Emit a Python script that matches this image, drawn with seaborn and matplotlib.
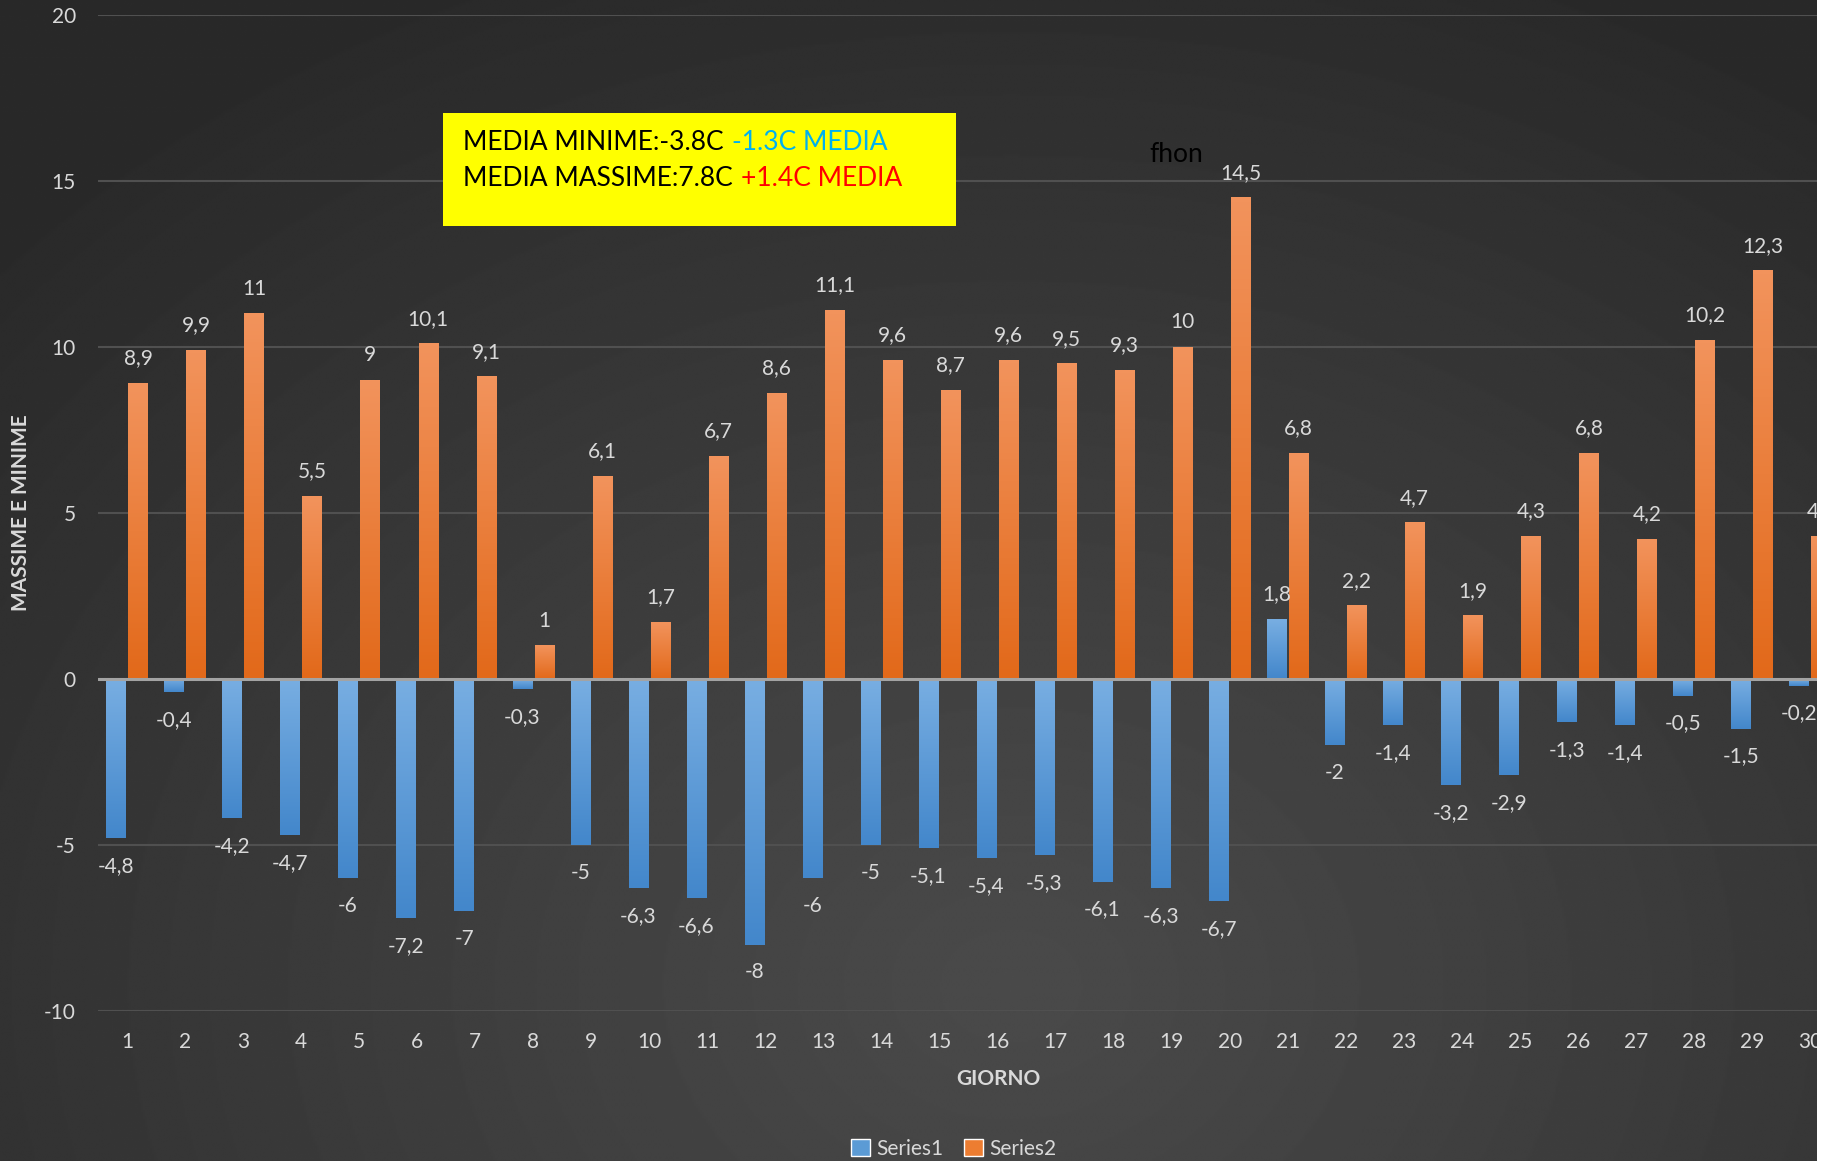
"""Temperature minime/massime per giorno, stile grafico Excel scuro."""

import numpy as np
import pandas as pd
import matplotlib
matplotlib.use("Agg")
from matplotlib import pyplot as plt
from matplotlib.patches import Rectangle
from matplotlib.colors import LinearSegmentedColormap
import seaborn as sns

giorni = list(range(1, 31))
minime = [-4.8, -0.4, -4.2, -4.7, -6, -7.2, -7, -0.3, -5, -6.3,
          -6.6, -8, -6, -5, -5.1, -5.4, -5.3, -6.1, -6.3, -6.7,
          1.8, -2, -1.4, -3.2, -2.9, -1.3, -1.4, -0.5, -1.5, -0.2]
massime = [8.9, 9.9, 11, 5.5, 9, 10.1, 9.1, 1, 6.1, 1.7,
           6.7, 8.6, 11.1, 9.6, 8.7, 9.6, 9.5, 9.3, 10, 14.5,
           6.8, 2.2, 4.7, 1.9, 4.3, 6.8, 4.2, 10.2, 12.3, 4.3]
serie = ["Series1", "Series2"]
colori = {"Series1": "#5B9BD5", "Series2": "#ED7D31"}
gradienti = {
    "Series1": ["#78AEE2", "#4387CB"],
    "Series2": ["#F2935C", "#E2691A"],
}
y_ticks = [-10, -5, 0, 5, 10, 15, 20]

W, H, DPI = 1839, 1161, 100
TXT = "#d9d9d9"

sns.set_theme(style="dark")
plt.rcParams["font.family"] = ["Lato", "DejaVu Sans"]
plt.rcParams["axes.unicode_minus"] = False

df = pd.DataFrame({
    "giorno": giorni * 2,
    "valore": minime + massime,
    "serie": [serie[0]] * len(giorni) + [serie[1]] * len(giorni),
})

fig = plt.figure(figsize=(W / DPI, H / DPI), dpi=DPI)

# sfondo con gradiente radiale
bg = fig.add_axes([0, 0, 1, 1], zorder=-10)
yy, xx = np.mgrid[0:1:600j, 0:1:960j]
dist = np.sqrt(((xx - 0.55) / 0.75) ** 2 + ((yy - 0.85) / 0.95) ** 2)
val = 0x4a - (0x4a - 0x29) * np.clip(dist, 0, 1) ** 1.1
bg.imshow(val, cmap="gray", vmin=0, vmax=255, aspect="auto",
          extent=[0, 1, 0, 1], interpolation="bilinear")
bg.set_axis_off()

ax = fig.add_axes([98 / W, 1 - 1011 / H, 1 - 98 / W, (1011 - 15) / H])
ax.set_facecolor("none")

sns.barplot(data=df, x="giorno", y="valore", hue="serie", palette=colori,
            width=0.76, gap=0.12, saturation=1, ax=ax)

grad = np.linspace(0, 1, 100).reshape(-1, 1)
for container, nome, valori in zip(ax.containers, serie, [minime, massime]):
    cmap = LinearSegmentedColormap.from_list(nome, gradienti[nome])
    for bar, v in zip(container, valori):
        x, w = bar.get_x(), bar.get_width()
        y0, h = bar.get_y(), bar.get_height()
        bot, top = min(y0, y0 + h), max(y0, y0 + h)
        ax.imshow(grad, cmap=cmap, aspect="auto", extent=[x, x + w, bot, top],
                  origin="upper", zorder=2)
        bar.set_alpha(0)
        ax.annotate(f"{v:g}".replace(".", ","), (x + w / 2, v),
                    xytext=(0, 18 if v >= 0 else -20), textcoords="offset points",
                    ha="center", va="center", color=TXT, fontsize=15)

ax.set_xlim(-0.5, 29.5)
ax.set_ylim(-10, 20)
ax.set_yticks(y_ticks)
ax.yaxis.grid(True, color="#505050", lw=1.5)
ax.xaxis.grid(False)
ax.axhline(0, color="#a3a3a3", lw=2.2, zorder=3)
ax.tick_params(axis="both", length=0, colors=TXT, labelsize=15)
ax.tick_params(axis="y", pad=16)
ax.tick_params(axis="x", pad=15)
ax.set_xlabel("")
ax.set_ylabel("")
for s in ax.spines.values():
    s.set_visible(False)

handles, labels = ax.get_legend_handles_labels()
ax.get_legend().remove()
fig.legend(handles, labels, loc="center", bbox_to_anchor=(954 / W, 1 - 1149 / H),
           ncol=2, frameon=False, handlelength=0.9, handleheight=0.9,
           columnspacing=1.0, handletextpad=0.3, fontsize=15, labelcolor=TXT)

fig.text(998 / W, 1 - 1079 / H, "GIORNO", ha="center", va="center",
         color=TXT, fontsize=15, fontweight="bold")
fig.text(21 / W, 1 - 513 / H, "MASSIME E MINIME", ha="center", va="center",
         rotation=90, color=TXT, fontsize=15, fontweight="bold")

# riquadro giallo con le medie
fig.add_artist(Rectangle((443 / W, 1 - 226 / H), 513 / W, 113 / H,
                         transform=fig.transFigure, facecolor="#FFFF00",
                         edgecolor="none", zorder=5))
renderer = fig.canvas.get_renderer()
righe = [("MEDIA MINIME:-3.8C", "-1.3C MEDIA", "#00B0F0", 143),
         ("MEDIA MASSIME:7.8C", "+1.4C MEDIA", "#FF0000", 179)]
for nero, colorato, col, ypix in righe:
    t = fig.text(463 / W, 1 - ypix / H, nero, ha="left", va="center",
                 color="black", fontsize=19, zorder=6)
    bb = t.get_window_extent(renderer)
    fig.text((bb.x1 + 8) / W, 1 - ypix / H, colorato, ha="left", va="center",
             color=col, fontsize=19, zorder=6)

fig.text(1176 / W, 1 - 155 / H, "fhon", ha="center", va="center",
         color="black", fontsize=19, zorder=6)

# striscia bianca a destra (grafico tagliato)
fig.add_artist(Rectangle((1817 / W, 0), (W - 1817) / W, 1,
                         transform=fig.transFigure, facecolor="white",
                         edgecolor="none", zorder=20))

fig.savefig("out.png", dpi=DPI)
